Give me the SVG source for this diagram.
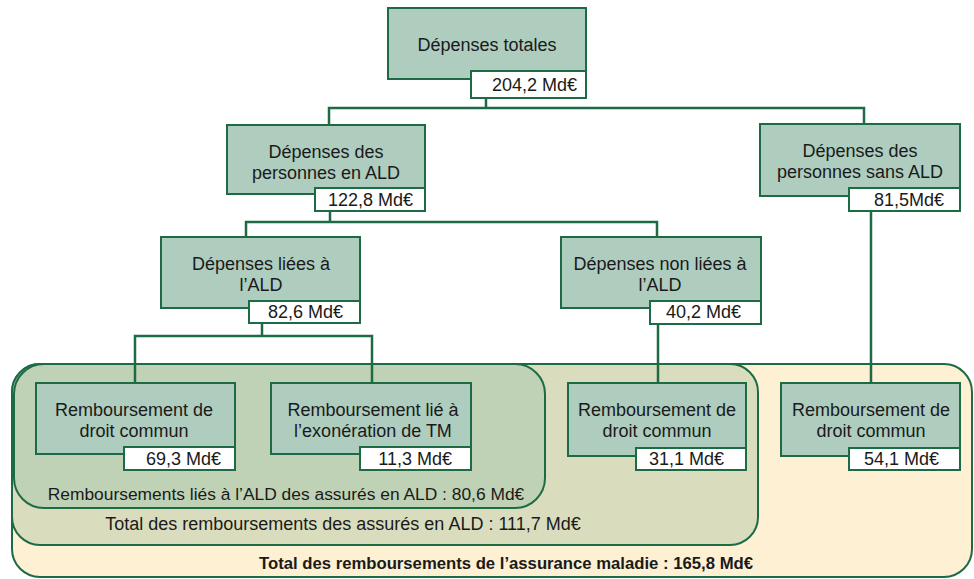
<svg xmlns="http://www.w3.org/2000/svg" width="974" height="579" viewBox="0 0 974 579">
<style>
.bg{fill:#ffffff}
.node{fill:#aecdbf;stroke:#1d6b45;stroke-width:2}
.val{fill:#ffffff;stroke:#1d6b45;stroke-width:2}
.t{font-family:"Liberation Sans",Arial,sans-serif;font-size:18px;fill:#1a1a1a;text-anchor:middle;dominant-baseline:central}
.v{font-family:"Liberation Sans",Arial,sans-serif;font-size:18px;fill:#1a1a1a;text-anchor:end;dominant-baseline:central}
.b{font-weight:bold;font-size:16.7px}
.s{font-size:17.4px}
.conn{fill:none;stroke:#1d6b45;stroke-width:2.5}
.grp{stroke:#1d6b45;stroke-width:2}
</style>
<rect class="bg" x="0" y="0" width="974" height="579"/>
<g id="groups">
  <rect id="total-group" class="grp" x="12" y="364" width="960" height="213" rx="28" fill="#fdf0d3"/>
  <rect id="ald-group" class="grp" x="12" y="364" width="746" height="181" rx="28" fill="#d9ddbd"/>
  <rect id="ald-linked-group" class="grp" x="14" y="364" width="531" height="144" rx="30" fill="#c0d2b6"/>
  <text class="t s" x="286" y="494">Remboursements liés à l’ALD des assurés en ALD : 80,6 Md€</text>
  <text class="t" x="343" y="524">Total des remboursements des assurés en ALD : 111,7 Md€</text>
  <text class="t b" x="506" y="563">Total des remboursements de l’assurance maladie : 165,8 Md€</text>
</g>
<g id="connectors">
  <polyline class="conn" points="486,98 486,108"/>
  <polyline class="conn" points="329,124 329,108 864,108 864,124"/>
  <polyline class="conn" points="330,211 330,222"/>
  <polyline class="conn" points="246,237 246,222 657,222 657,237"/>
  <polyline class="conn" points="262,323 262,336"/>
  <polyline class="conn" points="135,383 135,336 372,336 372,383"/>
  <polyline class="conn" points="658,324 658,383"/>
  <polyline class="conn" points="871,211 871,383"/>
</g>
<g id="n-total">
  <rect class="node" x="388" y="8" width="198" height="71"/>
  <text class="t" x="487" y="45">Dépenses totales</text>
  <rect class="val" x="471" y="71" width="115" height="27"/>
  <text class="v" x="577" y="85">204,2 Md€</text>
</g>
<g id="n-ald">
  <rect class="node" x="227" y="125" width="198" height="69"/>
  <text class="t" x="326" y="152">Dépenses des<tspan x="326" dy="20.5">personnes en ALD</tspan></text>
  <rect class="val" x="315" y="188" width="110" height="23"/>
  <text class="v" x="413" y="200">122,8 Md€</text>
</g>
<g id="n-sans-ald">
  <rect class="node" x="760" y="124" width="200" height="72"/>
  <text class="t" x="860" y="151">Dépenses des<tspan x="860" dy="20.5">personnes sans ALD</tspan></text>
  <rect class="val" x="849" y="188" width="111" height="23"/>
  <text class="v" x="944" y="200">81,5Md€</text>
</g>
<g id="n-liees">
  <rect class="node" x="161" y="237" width="199" height="71"/>
  <text class="t" x="261" y="264">Dépenses liées à<tspan x="261" dy="20.5">l’ALD</tspan></text>
  <rect class="val" x="249" y="301" width="111" height="22"/>
  <text class="v" x="343" y="312">82,6 Md€</text>
</g>
<g id="n-non-liees">
  <rect class="node" x="561" y="237" width="200" height="71"/>
  <text class="t" x="660" y="264">Dépenses non liées à<tspan x="660" dy="20.5">l’ALD</tspan></text>
  <rect class="val" x="650" y="301" width="111" height="23"/>
  <text class="v" x="741" y="312">40,2 Md€</text>
</g>
<g id="n-rdc1">
  <rect class="node" x="36" y="383" width="199" height="71"/>
  <text class="t" x="134" y="410">Remboursement de<tspan x="134" dy="21">droit commun</tspan></text>
  <rect class="val" x="124" y="447" width="111" height="23"/>
  <text class="v" x="221" y="459">69,3 Md€</text>
</g>
<g id="n-tm">
  <rect class="node" x="271" y="383" width="200" height="71"/>
  <text class="t" x="373" y="410">Remboursement lié à<tspan x="373" dy="21">l’exonération de TM</tspan></text>
  <rect class="val" x="360" y="447" width="111" height="23"/>
  <text class="v" x="452" y="459">11,3 Md€</text>
</g>
<g id="n-rdc2">
  <rect class="node" x="568" y="383" width="178" height="73"/>
  <text class="t" x="657" y="410">Remboursement de<tspan x="657" dy="20.5">droit commun</tspan></text>
  <rect class="val" x="636" y="448" width="110" height="22"/>
  <text class="v" x="724" y="459">31,1 Md€</text>
</g>
<g id="n-rdc3">
  <rect class="node" x="781" y="383" width="179" height="73"/>
  <text class="t" x="871" y="410">Remboursement de<tspan x="871" dy="20.5">droit commun</tspan></text>
  <rect class="val" x="849" y="448" width="111" height="22"/>
  <text class="v" x="939" y="459">54,1 Md€</text>
</g>
</svg>
